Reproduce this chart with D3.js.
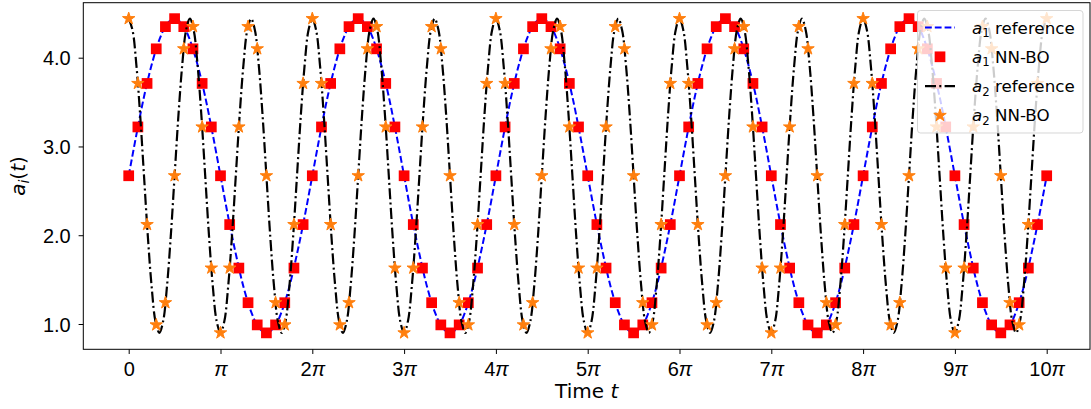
<!DOCTYPE html>
<html lang="en">
<head>
    <meta charset="UTF-8">
    <title>a_i(t) reference vs NN-BO</title>
    <script src="https://cdn.jsdelivr.net/npm/d3@7"></script>
    <style>
        body {
            margin: 0;
            background: #fff;
        }
        svg {
            display: block;
            font-family: 'DejaVu Sans', sans-serif;
        }
        .frame {
            fill: none;
            stroke: #000;
            stroke-width: 1;
        }
        .tick line {
            stroke: #000;
            stroke-width: 1;
        }
    </style>
</head>
<body>
<svg id="chart" width="1091" height="409"></svg>
<script>

    // time grids, in units of pi (sampling steps 0.1pi, pi/12, pi/24)
    var tNN = d3.range(101).map(i => i / 10);
    var tRef1 = d3.range(121).map(i => i / 12);
    var tRef2 = d3.range(241).map(i => i / 24);

    // a1 reference (dashed blue line)
    var a1Ref = [
        2.67, 3.13, 3.56, 3.92, 4.20, 4.38, 4.44, 4.38, 4.20, 3.92, 3.56, 3.13, 2.67, 2.21, 1.79, 1.42, 1.14, 0.96, 0.90, 0.96, 1.14, 1.42, 1.79, 2.21,
        2.67, 3.13, 3.56, 3.92, 4.20, 4.38, 4.44, 4.38, 4.20, 3.92, 3.56, 3.13, 2.67, 2.21, 1.79, 1.42, 1.14, 0.96, 0.90, 0.96, 1.14, 1.42, 1.79, 2.21,
        2.67, 3.13, 3.56, 3.92, 4.20, 4.38, 4.44, 4.38, 4.20, 3.92, 3.56, 3.13, 2.67, 2.21, 1.79, 1.42, 1.14, 0.96, 0.90, 0.96, 1.14, 1.42, 1.79, 2.21,
        2.67, 3.13, 3.56, 3.92, 4.20, 4.38, 4.44, 4.38, 4.20, 3.92, 3.56, 3.13, 2.67, 2.21, 1.79, 1.42, 1.14, 0.96, 0.90, 0.96, 1.14, 1.42, 1.79, 2.21,
        2.67, 3.13, 3.56, 3.92, 4.20, 4.38, 4.44, 4.38, 4.20, 3.92, 3.56, 3.13, 2.67, 2.21, 1.79, 1.42, 1.14, 0.96, 0.90, 0.96, 1.14, 1.42, 1.79, 2.21,
        2.67
    ];

    // a1 NN-BO (red squares)
    var a1NN = [
        2.67, 3.22, 3.71, 4.10, 4.35, 4.44, 4.35, 4.10, 3.71, 3.22, 2.67, 2.12, 1.63, 1.24, 0.99, 0.90, 0.99, 1.24, 1.63, 2.12,
        2.67, 3.22, 3.71, 4.10, 4.35, 4.44, 4.35, 4.10, 3.71, 3.22, 2.67, 2.12, 1.63, 1.24, 0.99, 0.90, 0.99, 1.24, 1.63, 2.12,
        2.67, 3.22, 3.71, 4.10, 4.35, 4.44, 4.35, 4.10, 3.71, 3.22, 2.67, 2.12, 1.63, 1.24, 0.99, 0.90, 0.99, 1.24, 1.63, 2.12,
        2.67, 3.22, 3.71, 4.10, 4.35, 4.44, 4.35, 4.10, 3.71, 3.22, 2.67, 2.12, 1.63, 1.24, 0.99, 0.90, 0.99, 1.24, 1.63, 2.12,
        2.67, 3.22, 3.71, 4.10, 4.35, 4.44, 4.35, 4.10, 3.71, 3.22, 2.67, 2.12, 1.63, 1.24, 0.99, 0.90, 0.99, 1.24, 1.63, 2.12,
        2.67
    ];

    // a2 reference (black dash-dot line)
    var a2Ref = [
        4.44, 4.31, 3.92, 3.35, 2.67, 1.99, 1.42, 1.03, 0.90, 1.03, 1.42, 1.99, 2.67, 3.35, 3.92, 4.31,
        4.44, 4.31, 3.92, 3.35, 2.67, 1.99, 1.42, 1.03, 0.90, 1.03, 1.42, 1.99, 2.67, 3.35, 3.92, 4.31,
        4.44, 4.31, 3.92, 3.35, 2.67, 1.99, 1.42, 1.03, 0.90, 1.03, 1.42, 1.99, 2.67, 3.35, 3.92, 4.31,
        4.44, 4.31, 3.92, 3.35, 2.67, 1.99, 1.42, 1.03, 0.90, 1.03, 1.42, 1.99, 2.67, 3.35, 3.92, 4.31,
        4.44, 4.31, 3.92, 3.35, 2.67, 1.99, 1.42, 1.03, 0.90, 1.03, 1.42, 1.99, 2.67, 3.35, 3.92, 4.31,
        4.44, 4.31, 3.92, 3.35, 2.67, 1.99, 1.42, 1.03, 0.90, 1.03, 1.42, 1.99, 2.67, 3.35, 3.92, 4.31,
        4.44, 4.31, 3.92, 3.35, 2.67, 1.99, 1.42, 1.03, 0.90, 1.03, 1.42, 1.99, 2.67, 3.35, 3.92, 4.31,
        4.44, 4.31, 3.92, 3.35, 2.67, 1.99, 1.42, 1.03, 0.90, 1.03, 1.42, 1.99, 2.67, 3.35, 3.92, 4.31,
        4.44, 4.31, 3.92, 3.35, 2.67, 1.99, 1.42, 1.03, 0.90, 1.03, 1.42, 1.99, 2.67, 3.35, 3.92, 4.31,
        4.44, 4.31, 3.92, 3.35, 2.67, 1.99, 1.42, 1.03, 0.90, 1.03, 1.42, 1.99, 2.67, 3.35, 3.92, 4.31,
        4.44, 4.31, 3.92, 3.35, 2.67, 1.99, 1.42, 1.03, 0.90, 1.03, 1.42, 1.99, 2.67, 3.35, 3.92, 4.31,
        4.44, 4.31, 3.92, 3.35, 2.67, 1.99, 1.42, 1.03, 0.90, 1.03, 1.42, 1.99, 2.67, 3.35, 3.92, 4.31,
        4.44, 4.31, 3.92, 3.35, 2.67, 1.99, 1.42, 1.03, 0.90, 1.03, 1.42, 1.99, 2.67, 3.35, 3.92, 4.31,
        4.44, 4.31, 3.92, 3.35, 2.67, 1.99, 1.42, 1.03, 0.90, 1.03, 1.42, 1.99, 2.67, 3.35, 3.92, 4.31,
        4.44, 4.31, 3.92, 3.35, 2.67, 1.99, 1.42, 1.03, 0.90, 1.03, 1.42, 1.99, 2.67, 3.35, 3.92, 4.31,
        4.44
    ];

    // a2 NN-BO (orange stars)
    var a2NN = [
        4.44, 3.71, 2.12, 0.99, 1.24, 2.67, 4.10, 4.35, 3.22, 1.63, 0.90, 1.63, 3.22, 4.35, 4.10, 2.67, 1.24, 0.99, 2.12, 3.71,
        4.44, 3.71, 2.12, 0.99, 1.24, 2.67, 4.10, 4.35, 3.22, 1.63, 0.90, 1.63, 3.22, 4.35, 4.10, 2.67, 1.24, 0.99, 2.12, 3.71,
        4.44, 3.71, 2.12, 0.99, 1.24, 2.67, 4.10, 4.35, 3.22, 1.63, 0.90, 1.63, 3.22, 4.35, 4.10, 2.67, 1.24, 0.99, 2.12, 3.71,
        4.44, 3.71, 2.12, 0.99, 1.24, 2.67, 4.10, 4.35, 3.22, 1.63, 0.90, 1.63, 3.22, 4.35, 4.10, 2.67, 1.24, 0.99, 2.12, 3.71,
        4.44, 3.71, 2.12, 0.99, 1.24, 2.67, 4.10, 4.35, 3.22, 1.63, 0.90, 1.63, 3.22, 4.35, 4.10, 2.67, 1.24, 0.99, 2.12, 3.71,
        4.44
    ];

    var xTicks = [0, 1, 2, 3, 4, 5, 6, 7, 8, 9, 10];
    var xTickLabels = ['0', 'π', '2π', '3π', '4π', '5π', '6π', '7π', '8π', '9π', '10π'];
    var yTicks = [1.0, 2.0, 3.0, 4.0];

    var box = {left: 83.3, right: 1090, top: 2.7, bottom: 349.3};

    var svg = d3.select('#chart');

    var x = d3.scaleLinear().domain([0, 10]).range([128.7, 1046.7]);
    var y = d3.scaleLinear().domain([1, 4]).range([324, 57.7]);

    var lineOf = (ts) => d3.line()
        .x((d, i) => x(ts[i]))
        .y(d => y(d))
        .curve(d3.curveCatmullRom.alpha(0.5));

    // axes
    var xAxis = svg.append('g')
        .attr('transform', `translate(0,${box.bottom})`)
        .call(d3.axisBottom(x).tickValues(xTicks).tickSize(4.7).tickFormat(''));
    xAxis.select('.domain').remove();
    xAxis.selectAll('.tick').append('text')
        .attr('y', 26.5)
        .attr('fill', '#000')
        .attr('text-anchor', 'middle')
        .style('font-size', '20px')
        .each(function (d, i) {
            var s = xTickLabels[i];
            var t = d3.select(this);
            if (s.endsWith('π')) {
                if (s.length > 1) t.append('tspan').text(s.slice(0, -1));
                t.append('tspan').attr('font-style', 'italic').text('π');
            } else {
                t.text(s);
            }
        });

    var yAxis = svg.append('g')
        .attr('transform', `translate(${box.left},0)`)
        .call(d3.axisLeft(y).tickValues(yTicks).tickSize(4.7).tickFormat(''));
    yAxis.select('.domain').remove();
    yAxis.selectAll('.tick').append('text')
        .attr('x', -12.6)
        .attr('dy', '0.36em')
        .attr('fill', '#000')
        .attr('text-anchor', 'end')
        .style('font-size', '20px')
        .text(d => d3.format('.1f')(d));

    // series, in plotting order
    svg.append('path')
        .attr('d', lineOf(tRef1)(a1Ref))
        .attr('fill', 'none')
        .attr('stroke', '#0000ff')
        .attr('stroke-width', 2)
        .attr('stroke-dasharray', '6.8,3');

    svg.append('g').selectAll('path')
        .data(a1NN)
        .join('path')
        .attr('transform', (d, i) => `translate(${x(tNN[i])},${y(d)})`)
        .attr('d', d3.symbol().type(d3.symbolSquare).size(115))
        .attr('fill', '#ff0000');

    svg.append('path')
        .attr('d', lineOf(tRef2)(a2Ref))
        .attr('fill', 'none')
        .attr('stroke', '#000')
        .attr('stroke-width', 2.2)
        .attr('stroke-dasharray', '11,3.3,2,3.3');

    svg.append('g').selectAll('path')
        .data(a2NN)
        .join('path')
        .attr('transform', (d, i) => `translate(${x(tNN[i])},${y(d)})`)
        .attr('d', d3.symbol().type(d3.symbolStar).size(48))
        .attr('fill', '#ff7f0e')
        .attr('stroke', '#ff7f0e')
        .attr('stroke-width', 1);

    // frame
    svg.append('rect')
        .attr('class', 'frame')
        .attr('x', box.left)
        .attr('y', box.top)
        .attr('width', box.right - box.left)
        .attr('height', box.bottom - box.top);

    // axis labels
    var xl = svg.append('text')
        .attr('x', (box.left + box.right) / 2)
        .attr('y', 398)
        .attr('text-anchor', 'middle')
        .style('font-size', '20px');
    xl.append('tspan').text('Time ');
    xl.append('tspan').attr('font-style', 'italic').text('t');

    var yl = svg.append('text')
        .attr('transform', 'translate(25,176) rotate(-90)')
        .attr('text-anchor', 'middle')
        .style('font-size', '20px');
    yl.append('tspan').attr('font-style', 'italic').text('a');
    yl.append('tspan').attr('font-style', 'italic').attr('font-size', '14px').attr('dy', 4).text('i');
    yl.append('tspan').attr('dy', -4).text('(');
    yl.append('tspan').attr('font-style', 'italic').text('t');
    yl.append('tspan').text(')');

    // legend
    var legendItems = [
        {sub: '1', label: ' reference', kind: 'line', color: '#0000ff', dash: '6.8,3', width: 2},
        {sub: '1', label: ' NN-BO', kind: 'square', color: '#ff0000'},
        {sub: '2', label: ' reference', kind: 'line', color: '#000', dash: '11,3.3,2,3.3', width: 2.2},
        {sub: '2', label: ' NN-BO', kind: 'star', color: '#ff7f0e'}
    ];

    var legend = svg.append('g');
    legend.append('rect')
        .attr('x', 917.5)
        .attr('y', 10.5)
        .attr('width', 165.5)
        .attr('height', 122.5)
        .attr('rx', 3)
        .attr('fill', '#fff')
        .attr('fill-opacity', 0.8)
        .attr('stroke', '#cccccc')
        .attr('stroke-opacity', 0.8)
        .attr('stroke-width', 1);

    legendItems.forEach((d, i) => {
        var cy = 27.5 + i * 29.3;
        var g = legend.append('g');
        if (d.kind === 'line') {
            g.append('line')
                .attr('x1', 925).attr('x2', 955)
                .attr('y1', cy).attr('y2', cy)
                .attr('stroke', d.color)
                .attr('stroke-width', d.width)
                .attr('stroke-dasharray', d.dash);
        } else if (d.kind === 'square') {
            g.append('path')
                .attr('transform', `translate(940,${cy})`)
                .attr('d', d3.symbol().type(d3.symbolSquare).size(115))
                .attr('fill', d.color);
        } else {
            g.append('path')
                .attr('transform', `translate(940,${cy})`)
                .attr('d', d3.symbol().type(d3.symbolStar).size(48))
                .attr('fill', d.color)
                .attr('stroke', d.color)
                .attr('stroke-width', 1);
        }
        var t = g.append('text')
            .attr('x', 972)
            .attr('y', cy + 6)
            .style('font-size', '16.7px');
        t.append('tspan').attr('font-style', 'italic').text('a');
        t.append('tspan').attr('font-size', '11.7px').attr('dy', 3.5).text(d.sub);
        t.append('tspan').attr('dy', -3.5).text(d.label);
    });

</script>
</body>
</html>
